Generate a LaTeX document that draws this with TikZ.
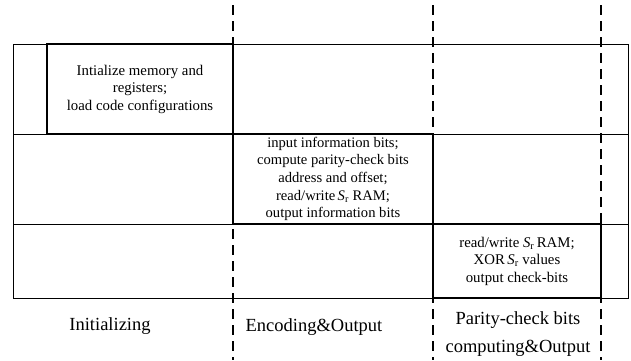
\documentclass[tikz,border=0pt]{standalone}
\usepackage{fontspec}
\setmainfont{Liberation Serif}
\newcommand{\Sr}{\textit{S}\textsubscript{r}}
\begin{document}
\begin{tikzpicture}[x=1pt,y=-1pt,
  frame/.style={line width=1pt, draw=black},
  stagebox/.style={draw, line width=1.3pt, align=center, inner sep=0pt, font=\fontsize{14.8}{17.5}\selectfont},
  divider/.style={line width=1.3pt, dash pattern=on 10pt off 6pt},
  phaselabel/.style={align=center, font=\fontsize{18.5}{28}\selectfont}]
\useasboundingbox (0,0) rectangle (631,360);
\fill[white] (0,0) rectangle (631,360);
% outer frame and row lines
\draw[frame] (13,44) rectangle (628,298);
\draw[frame] (13,134) -- (628,134);
\draw[frame] (13,224) -- (628,224);
% stage boxes
\node[stagebox, minimum width=186pt, minimum height=90pt] (init) at (140,89)
  {Intialize memory and\\registers;\\load code configurations};
\node[stagebox, minimum width=200pt, minimum height=90pt, font=\fontsize{14.6}{17.6}\selectfont] (enc) at (333,179)
  {input information bits;\\compute parity-check bits\\address and offset;\\read/write\,\Sr\ RAM;\\output information bits};
\node[stagebox, minimum width=168pt, minimum height=74pt] (par) at (517,261)
  {read/write \Sr\,RAM;\\XOR\,\Sr\ values\\output check-bits};
% dashed phase dividers
\draw[divider] (233,5) -- (233,360);
\draw[divider] (433,5) -- (433,360);
\draw[divider] (601,5) -- (601,360);
% phase labels
\node[phaselabel] (l1) at (110,326) {Initializing};
\node[phaselabel] (l2) at (314,327) {Encoding\&Output};
\node[phaselabel] (l3) at (518,334) {Parity-check bits\\computing\&Output};
\end{tikzpicture}
\end{document}
